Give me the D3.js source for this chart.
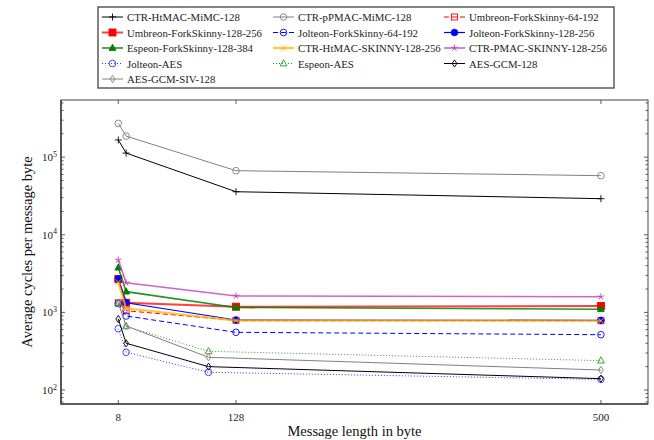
<!DOCTYPE html>
<html>
<head>
<meta charset="utf-8">
<script src="https://cdn.jsdelivr.net/npm/d3@7"></script>
<style>
  html, body { margin: 0; padding: 0; background: #fff; }
  svg { display: block; }
  svg text { font-family: "Liberation Serif", "DejaVu Serif", serif; }
</style>
</head>
<body>
<svg id="chart" width="654" height="440"></svg>
<script>
// Message lengths (bytes) at which each construction was measured
const lengthsSkinny = [8, 16, 128, 500];
const lengthsAes = [8, 16, 100, 500];

// Average cycles per message byte
const ctrHtmacMimc   = [166700, 113000, 35900, 29200];
const ctrPpmacMimc   = [273000, 187000, 67000, 57800];
const umbreon64      = [1330, 1050, 790, 780];
const umbreon128     = [2690, 1330, 1185, 1210];
const jolteon64      = [1300, 899, 554, 516];
const jolteon128     = [2690, 1330, 798, 791];
const espeon128      = [3770, 1850, 1157, 1100];
const ctrHtmacSkinny = [2450, 1130, 785, 780];
const ctrPmacSkinny  = [4730, 2410, 1630, 1590];
const jolteonAes     = [617, 306, 169, 137];
const espeonAes      = [1300, 660, 315, 239];
const aesGcm         = [822, 400, 200, 140];
const aesGcmSiv      = [1330, 668, 264, 181];

const seriesNames = [
  "CTR-HtMAC-MiMC-128", "CTR-pPMAC-MiMC-128", "Umbreon-ForkSkinny-64-192",
  "Umbreon-ForkSkinny-128-256", "Jolteon-ForkSkinny-64-192", "Jolteon-ForkSkinny-128-256",
  "Espeon-ForkSkinny-128-384", "CTR-HtMAC-SKINNY-128-256", "CTR-PMAC-SKINNY-128-256",
  "Jolteon-AES", "Espeon-AES", "AES-GCM-128", "AES-GCM-SIV-128"
];

const xTicks = [8, 128, 500];
const yMajorTicks = [1e2, 1e3, 1e4, 1e5];

// Styles per series (colour, dash, width, marker)
const styles = [
  { color: "#000", width: 1, mark: "plus" },
  { color: "#808080", width: 1, mark: "circle" },
  { color: "#ff0000", width: 1, dash: "5,3", mark: "square" },
  { color: "#ff0000", width: 2, lineOpacity: 0.75, mark: "square", fill: true },
  { color: "#0000ff", width: 1, dash: "5,3", mark: "circle" },
  { color: "#0000ff", width: 1.2, mark: "circle", fill: true },
  { color: "#008000", width: 1.6, lineOpacity: 0.85, mark: "triangle", fill: true },
  { color: "#ffb400", width: 2.2, lineOpacity: 0.75, mark: "cross" },
  { color: "#c040c0", width: 1.6, lineOpacity: 0.8, mark: "star" },
  { color: "#3030ff", width: 1, dash: "1,2", mark: "circle" },
  { color: "#20a020", width: 1, dash: "1,2", mark: "triangle" },
  { color: "#000", width: 1, mark: "diamond" },
  { color: "#808080", width: 1, mark: "diamond" }
];

const seriesValues = [
  ctrHtmacMimc, ctrPpmacMimc, umbreon64, umbreon128, jolteon64, jolteon128,
  espeon128, ctrHtmacSkinny, ctrPmacSkinny, jolteonAes, espeonAes, aesGcm, aesGcmSiv
];
const seriesLengths = [
  lengthsSkinny, lengthsSkinny, lengthsSkinny, lengthsSkinny, lengthsSkinny, lengthsSkinny,
  lengthsSkinny, lengthsSkinny, lengthsSkinny, lengthsAes, lengthsAes, lengthsAes, lengthsAes
];

const series = seriesNames.map((name, i) => ({
  name,
  style: styles[i],
  points: seriesValues[i].map((v, j) => ({ x: seriesLengths[i][j], y: v }))
}));

const svg = d3.select("#chart");
const plot = { left: 61, right: 648, top: 100, bottom: 404 };

const x = d3.scaleLinear().domain([-50.4, 548]).range([plot.left, plot.right]);
const y = d3.scaleLog().domain([Math.pow(10, 1.8196), Math.pow(10, 5.737)]).range([plot.bottom, plot.top]);

// Ticks: inward on all four sides, log minor ticks on y
const tickG = svg.append("g").attr("stroke", "#333").attr("stroke-width", 0.8);
xTicks.forEach(t => {
  tickG.append("line").attr("x1", x(t)).attr("x2", x(t)).attr("y1", plot.bottom).attr("y2", plot.bottom - 4);
  tickG.append("line").attr("x1", x(t)).attr("x2", x(t)).attr("y1", plot.top).attr("y2", plot.top + 4);
});
const [yLo, yHi] = y.domain();
for (let e = 1; e <= 5; e++) {
  for (let m = 1; m <= 9; m++) {
    const v = m * Math.pow(10, e);
    if (v < yLo || v > yHi) continue;
    const len = m === 1 ? 4 : 2.5;
    tickG.append("line").attr("x1", plot.left).attr("x2", plot.left + len).attr("y1", y(v)).attr("y2", y(v));
    tickG.append("line").attr("x1", plot.right).attr("x2", plot.right - len).attr("y1", y(v)).attr("y2", y(v));
  }
}

// Axis frame
svg.append("rect")
  .attr("x", plot.left).attr("y", plot.top)
  .attr("width", plot.right - plot.left).attr("height", plot.bottom - plot.top)
  .attr("fill", "none").attr("stroke", "#444").attr("stroke-width", 1);
svg.append("path")
  .attr("d", `M${plot.left},${plot.top}V${plot.bottom}H${plot.right}`)
  .attr("fill", "none").attr("stroke", "#444").attr("stroke-width", 1.6);

// Tick labels
svg.append("g").selectAll("text").data(xTicks).join("text")
  .attr("x", d => x(d)).attr("y", 421)
  .attr("text-anchor", "middle").attr("font-size", 11).attr("fill", "#222")
  .text(d => d);

const yLab = svg.append("g").selectAll("text").data(yMajorTicks).join("text")
  .attr("x", 57).attr("y", d => y(d) + 4)
  .attr("text-anchor", "end").attr("font-size", 11).attr("fill", "#222");
yLab.append("tspan").text("10");
yLab.append("tspan").attr("dy", -4.5).attr("font-size", 8).text(d => Math.round(Math.log10(d)));

// Axis titles
svg.append("text")
  .attr("x", (plot.left + plot.right) / 2).attr("y", 436)
  .attr("text-anchor", "middle").attr("font-size", 14.5).attr("fill", "#111")
  .text("Message length in byte");
svg.append("text")
  .attr("transform", `translate(32,${(plot.top + plot.bottom) / 2}) rotate(-90)`)
  .attr("text-anchor", "middle").attr("font-size", 14.5).attr("fill", "#111")
  .text("Average cycles per message byte");

// Marker drawing
function drawMarker(g, st, cx, cy) {
  const c = st.color;
  const fill = st.fill ? c : "none";
  const common = sel => sel.attr("stroke", c).attr("stroke-width", 0.9);
  switch (st.mark) {
    case "plus":
      common(g.append("path").attr("d", `M${cx - 3.5},${cy}H${cx + 3.5}M${cx},${cy - 3.5}V${cy + 3.5}`));
      break;
    case "cross":
      common(g.append("path").attr("d", `M${cx - 2.8},${cy - 2.8}L${cx + 2.8},${cy + 2.8}M${cx - 2.8},${cy + 2.8}L${cx + 2.8},${cy - 2.8}`));
      break;
    case "star": {
      let d = "";
      for (let k = 0; k < 5; k++) {
        const a = -Math.PI / 2 + k * 2 * Math.PI / 5;
        d += `M${cx},${cy}L${cx + 3.5 * Math.cos(a)},${cy + 3.5 * Math.sin(a)}`;
      }
      common(g.append("path").attr("d", d));
      break;
    }
    case "circle":
      common(g.append("circle").attr("cx", cx).attr("cy", cy).attr("r", 3.3).attr("fill", fill));
      break;
    case "square": {
      const s = st.fill ? 3.5 : 3;
      common(g.append("rect").attr("x", cx - s).attr("y", cy - s).attr("width", 2 * s).attr("height", 2 * s).attr("fill", fill));
      break;
    }
    case "triangle":
      common(g.append("path").attr("d", `M${cx},${cy - 3.8}L${cx + 3.4},${cy + 2.4}L${cx - 3.4},${cy + 2.4}Z`).attr("fill", fill));
      break;
    case "diamond":
      common(g.append("path").attr("d", `M${cx},${cy - 3.6}L${cx + 2.4},${cy}L${cx},${cy + 3.6}L${cx - 2.4},${cy}Z`).attr("fill", "none"));
      break;
  }
}

// Series lines and markers
const line = d3.line().x(d => x(d.x)).y(d => y(d.y));
const plotG = svg.append("g");
series.forEach(s => {
  const g = plotG.append("g");
  g.append("path")
    .attr("d", line(s.points))
    .attr("fill", "none")
    .attr("stroke", s.style.color)
    .attr("stroke-width", s.style.width)
    .attr("stroke-opacity", s.style.lineOpacity || 1)
    .attr("stroke-dasharray", s.style.dash || null);
  s.points.forEach(p => drawMarker(g, s.style, x(p.x), y(p.y)));
});

// Legend (three columns, row-major)
const legend = { left: 98, top: 7, width: 516, height: 81 };
const legG = svg.append("g");
legG.append("rect")
  .attr("x", legend.left).attr("y", legend.top)
  .attr("width", legend.width).attr("height", legend.height)
  .attr("fill", "#fff").attr("stroke", "#333").attr("stroke-width", 1.2);
const colX = [102, 273, 444];
const rowY = [17, 32.5, 48, 63.5, 79];
series.forEach((s, i) => {
  const cx0 = colX[i % 3], cy0 = rowY[Math.floor(i / 3)];
  const g = legG.append("g");
  g.append("line")
    .attr("x1", cx0).attr("x2", cx0 + 21).attr("y1", cy0).attr("y2", cy0)
    .attr("stroke", s.style.color)
    .attr("stroke-width", s.style.width)
    .attr("stroke-opacity", s.style.lineOpacity || 1)
    .attr("stroke-dasharray", s.style.dash || null);
  drawMarker(g, s.style, cx0 + 10.5, cy0);
  g.append("text")
    .attr("x", cx0 + 25).attr("y", cy0 + 4)
    .attr("font-size", 10.8).attr("fill", "#222")
    .text(s.name);
});
</script>
</body>
</html>
